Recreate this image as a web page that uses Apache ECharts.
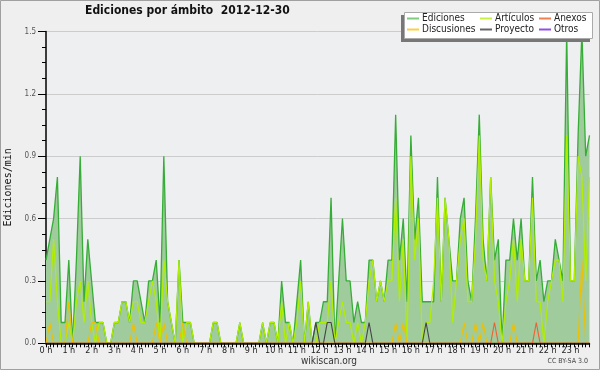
<!DOCTYPE html>
<html><head><meta charset="utf-8">
<script src="https://cdn.jsdelivr.net/npm/echarts@6/dist/echarts.min.js"></script>
<style>html,body{margin:0;padding:0;background:#efefef}#c{width:600px;height:370px}</style>
</head><body><div id="c"></div>
<script>
// Tick labels (one per hour)
const hourLabels = ['0 h','1 h','2 h','3 h','4 h','5 h','6 h','7 h','8 h','9 h','10 h','11 h',
  '12 h','13 h','14 h','15 h','16 h','17 h','18 h','19 h','20 h','21 h','22 h','23 h'];

// Edits per minute, one value per 10-minute slot (144 slots, 12 per row = 2 hours)
const ediciones = [
  0.4,0.5,0.6,0.8,0.1,0.1,0.4,0.0,0.4,0.9,0.2,0.5,
  0.3,0.1,0.1,0.1,0.0,0.0,0.1,0.1,0.2,0.2,0.1,0.3,
  0.3,0.2,0.1,0.3,0.3,0.4,0.1,0.9,0.2,0.1,0.0,0.4,
  0.1,0.1,0.1,0.0,0.0,0.0,0.0,0.0,0.1,0.1,0.0,0.0,
  0.0,0.0,0.0,0.1,0.0,0.0,0.0,0.0,0.0,0.1,0.0,0.1,
  0.1,0.0,0.3,0.1,0.1,0.0,0.2,0.4,0.0,0.2,0.0,0.1,
  0.1,0.2,0.2,0.7,0.0,0.3,0.6,0.3,0.3,0.1,0.2,0.1,
  0.1,0.4,0.4,0.2,0.3,0.2,0.4,0.4,1.1,0.4,0.6,0.2,
  1.0,0.5,0.7,0.2,0.2,0.2,0.2,0.8,0.2,0.7,0.5,0.3,
  0.3,0.6,0.7,0.3,0.2,0.6,1.1,0.5,0.3,0.8,0.4,0.5,
  0.0,0.4,0.4,0.6,0.4,0.6,0.3,0.3,0.8,0.3,0.4,0.2,
  0.3,0.3,0.5,0.4,0.3,1.5,0.3,0.3,1.0,1.5,0.9,1.0
];
const articulos = [
  0.2,0.2,0.5,0.2,0.0,0.0,0.1,0.0,0.2,0.3,0.1,0.3,
  0.1,0.0,0.1,0.1,0.0,0.0,0.1,0.1,0.2,0.2,0.1,0.2,
  0.2,0.1,0.1,0.2,0.3,0.2,0.0,0.4,0.2,0.1,0.0,0.4,
  0.0,0.1,0.1,0.0,0.0,0.0,0.0,0.0,0.1,0.1,0.0,0.0,
  0.0,0.0,0.0,0.1,0.0,0.0,0.0,0.0,0.0,0.1,0.0,0.1,
  0.1,0.0,0.2,0.0,0.1,0.0,0.1,0.3,0.0,0.2,0.0,0.0,
  0.1,0.1,0.1,0.3,0.0,0.1,0.2,0.1,0.1,0.0,0.1,0.0,
  0.1,0.3,0.4,0.2,0.3,0.2,0.3,0.3,0.7,0.2,0.5,0.0,
  0.9,0.4,0.6,0.0,0.1,0.1,0.3,0.7,0.2,0.7,0.5,0.1,
  0.3,0.5,0.6,0.2,0.2,0.5,1.0,0.4,0.3,0.8,0.3,0.2,
  0.0,0.2,0.3,0.5,0.2,0.5,0.3,0.3,0.7,0.2,0.2,0.0,
  0.2,0.3,0.4,0.4,0.2,1.0,0.3,0.3,0.9,0.8,0.3,0.8
];
const discusiones = [
  0,0.1,0,0,0,0,0.2,0,0,0,0,0,
  0.1,0.1,0,0,0,0,0,0,0,0,0,0.1,
  0,0,0,0,0,0.1,0,0.1,0,0,0,0,
  0.1,0,0,0,0,0,0,0,0,0,0,0,
  0,0,0,0,0,0,0,0,0,0,0,0,
  0,0,0,0,0,0,0,0,0,0,0,0,
  0,0,0,0,0,0,0,0,0,0,0,0,
  0,0,0,0,0,0,0,0,0.1,0,0.1,0,
  0,0,0,0,0,0,0,0,0,0,0,0,
  0,0,0.1,0,0,0.1,0,0.1,0,0,0,0,
  0,0,0,0.1,0,0,0,0,0,0,0,0,
  0,0,0,0,0,0,0,0,0,0.4,0,0
];
const proyecto = [
  0,0,0,0,0,0,0,0,0,0,0,0,
  0,0,0,0,0,0,0,0,0,0,0,0,
  0,0,0,0,0,0,0,0,0,0,0,0,
  0,0,0,0,0,0,0,0,0,0,0,0,
  0,0,0,0,0,0,0,0,0,0,0,0,
  0,0,0,0,0,0,0,0,0,0,0,0.1,
  0,0,0.1,0.1,0,0,0,0,0,0,0,0,
  0,0.1,0,0,0,0,0,0,0,0,0,0,
  0,0,0,0,0.1,0,0,0,0,0,0,0,
  0,0,0,0,0,0,0,0,0,0,0,0,
  0,0,0,0,0,0,0,0,0,0,0,0,
  0,0,0,0,0,0,0,0,0,0,0,0
];
const anexos = [
  0,0,0,0,0,0,0,0,0,0,0,0,
  0,0,0,0,0,0,0,0,0,0,0,0,
  0,0,0,0,0,0,0,0,0,0,0,0,
  0,0,0,0,0,0,0,0,0,0,0,0,
  0,0,0,0,0,0,0,0,0,0,0,0,
  0,0,0,0,0,0,0,0,0,0,0,0,
  0,0,0,0,0,0,0,0,0,0,0,0,
  0,0,0,0,0,0,0,0,0,0,0,0,
  0,0,0,0,0,0,0,0,0,0,0,0,
  0,0,0,0,0,0,0,0,0,0,0.1,0,
  0,0,0,0,0,0,0,0,0,0.1,0,0,
  0,0,0,0,0,0,0,0,0,0,0,0
];
const otros = [
  0,0,0,0,0,0,0,0,0,0,0,0,
  0,0,0,0,0,0,0,0,0,0,0,0,
  0,0,0,0,0,0,0,0,0,0,0,0,
  0,0,0,0,0,0,0,0,0,0,0,0,
  0,0,0,0,0,0,0,0,0,0,0,0,
  0,0,0,0,0,0,0,0,0,0,0,0,
  0,0,0,0,0,0,0,0,0,0,0,0,
  0,0,0,0,0,0,0,0,0,0,0,0,
  0,0,0,0,0,0,0,0,0,0,0,0,
  0,0,0,0,0,0,0,0,0,0,0,0,
  0,0,0,0,0,0,0,0,0,0,0,0,
  0,0,0,0,0,0,0,0,0,0,0,0
];

const categories = [];
for (let h = 0; h < 24; h++) for (let m = 0; m < 60; m += 10) categories.push(h + ':' + (m < 10 ? '0' : '') + m);

const FONT = "'DejaVu Sans Condensed', 'DejaVu Sans', sans-serif";
const MONO = "'DejaVu Sans Mono', monospace";
const chart = echarts.init(document.getElementById('c'), null, {renderer: 'canvas'});

function legendCol(left, items) {
  return {
    orient: 'vertical', left: left, top: 13, itemGap: 0, itemWidth: 12, itemHeight: 2,
    icon: 'rect', z: 20, padding: 0,
    textStyle: {fontFamily: FONT, fontSize: 10, color: '#222', lineHeight: 11, padding: [0, 0, 0, -2]},
    data: items
  };
}

function lineSeries(name, data, color, width, z) {
  return {name: name, type: 'line', data: data, showSymbol: false, symbol: 'none', z: z,
    lineStyle: {color: color, width: width}, itemStyle: {color: color}};
}

const option = {
  animation: false,
  backgroundColor: '#efefef',
  title: {
    text: 'Ediciones por ámbito  2012-12-30', left: 85, top: 5, padding: 0,
    textStyle: {fontFamily: FONT, fontSize: 12, fontWeight: 'bold', color: '#111'}
  },
  grid: {left: 46, right: 10.5, top: 31.5, bottom: 26.7, containLabel: false, outerBoundsMode: 'none',
    show: true, backgroundColor: '#eeeff1', borderWidth: 0},
  legend: [
    legendCol(407, [{name: 'Ediciones', itemStyle: {color: '#7fcc7f'}}, {name: 'Discusiones', itemStyle: {color: '#f8d040'}}]),
    legendCol(480, [{name: 'Artículos', itemStyle: {color: '#c8f040'}}, {name: 'Proyecto', itemStyle: {color: '#666666'}}]),
    legendCol(539, [{name: 'Anexos', itemStyle: {color: '#f08050'}}, {name: 'Otros', itemStyle: {color: '#9050e0'}}])
  ],
  xAxis: {
    type: 'category', data: categories, boundaryGap: false, z: 5,
    axisLine: {lineStyle: {color: '#000', width: 1.5}},
    axisTick: {interval: 0, length: 4, lineStyle: {color: '#000'}},
    axisLabel: {interval: 5, formatter: (v, i) => hourLabels[i / 6], fontFamily: FONT, fontSize: 9, color: '#222', margin: 3},
    splitLine: {show: false}
  },
  yAxis: {
    type: 'value', min: 0, max: 1.5, interval: 0.3,
    name: 'Ediciones/min', nameLocation: 'middle', nameRotate: 90, nameGap: 31,
    nameTextStyle: {fontFamily: MONO, fontSize: 10, color: '#111'},
    axisLine: {show: true, lineStyle: {color: '#000', width: 1.5}},
    axisTick: {show: true, length: 8, lineStyle: {color: '#000'}},
    minorTick: {show: true, splitNumber: 4, length: 4, lineStyle: {color: '#000'}},
    axisLabel: {formatter: v => v.toFixed(1), fontFamily: FONT, fontSize: 8, color: '#555', margin: 10},
    splitLine: {lineStyle: {color: '#cccccc', width: 1}}
  },
  series: [
    Object.assign(lineSeries('Ediciones', ediciones, '#36ad36', 1.3, 2), {areaStyle: {color: '#9fcb9d', opacity: 1}}),
    lineSeries('Artículos', articulos, '#b2ee00', 1.2, 3),
    lineSeries('Discusiones', discusiones, '#f0c000', 1.1, 3),
    lineSeries('Proyecto', proyecto, '#444444', 1.1, 3),
    lineSeries('Anexos', anexos, '#f06030', 1.1, 3),
    lineSeries('Otros', otros, '#9040f0', 1.1, 1)
  ],
  graphic: [
    {type: 'rect', z: -1, silent: true, shape: {x: 0.5, y: 0.5, width: 599, height: 369}, style: {fill: 'none', stroke: '#a0a0a0', lineWidth: 1}},
    {type: 'rect', z: 15, silent: true, shape: {x: 401, y: 15, width: 189, height: 27}, style: {fill: '#777777'}},
    {type: 'rect', z: 16, silent: true, shape: {x: 404.5, y: 12.5, width: 188, height: 26}, style: {fill: '#ffffff', stroke: '#aaaaaa', lineWidth: 1}},
    {type: 'text', z: 5, silent: true, left: 301, top: 356, style: {text: 'wikiscan.org', fontFamily: FONT, fontSize: 10, fill: '#333', textAlign: 'center'}},
    {type: 'text', z: 5, silent: true, right: 12, top: 358, style: {text: 'CC BY-SA 3.0', fontFamily: FONT, fontSize: 7, fill: '#444'}}
  ]
};
chart.setOption(option);
</script></body></html>
